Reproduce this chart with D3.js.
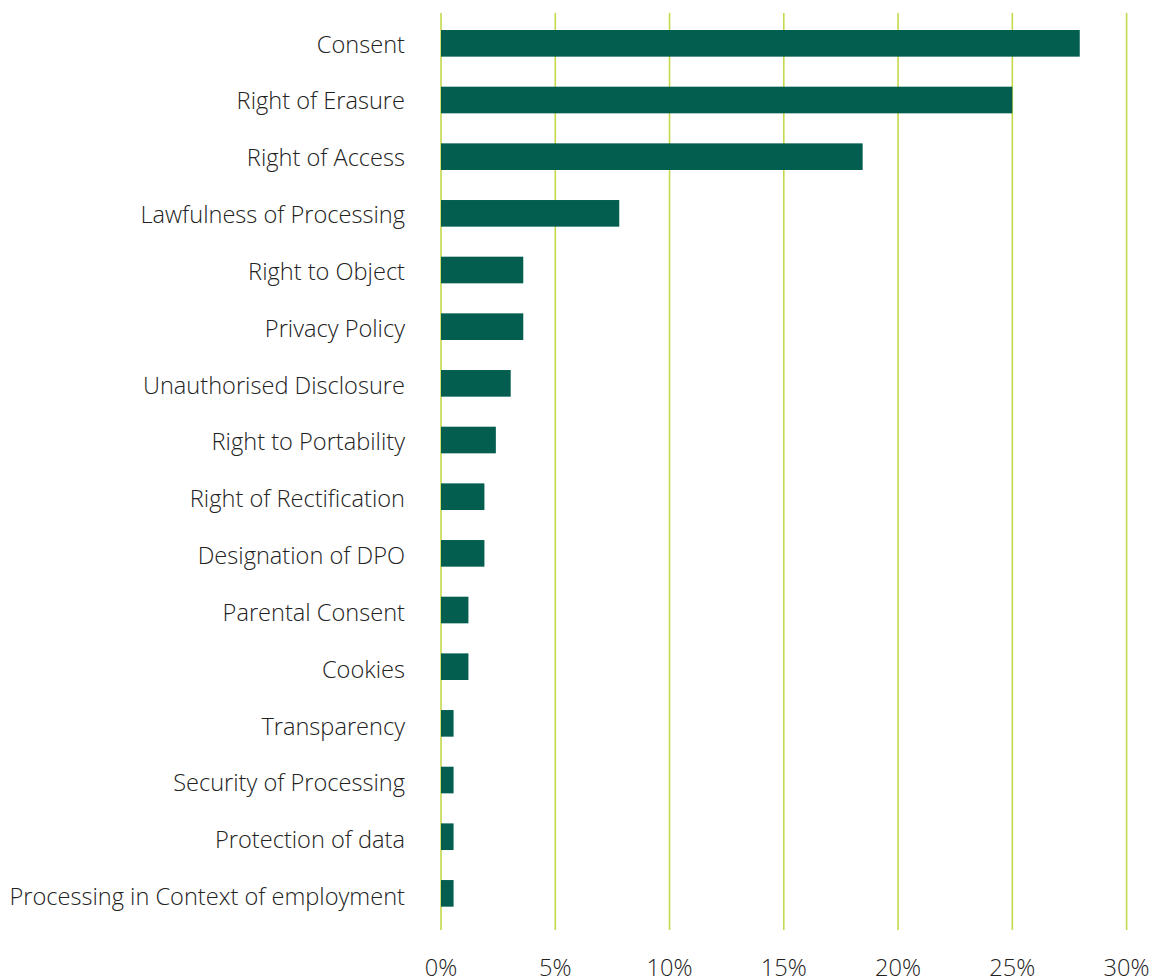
<!DOCTYPE html>
<html>
<head>
<meta charset="utf-8">
<script src="https://cdn.jsdelivr.net/npm/d3@7"></script>
<style>
  html, body { margin: 0; padding: 0; background: #fff; }
  svg { display: block; }
  text { font-family: "Open Sans", sans-serif; font-weight: 300; }
</style>
</head>
<body>
<div id="chart"></div>
<script>
const categories = [
  "Consent", "Right of Erasure", "Right of Access", "Lawfulness of Processing",
  "Right to Object", "Privacy Policy", "Unauthorised Disclosure", "Right to Portability",
  "Right of Rectification", "Designation of DPO", "Parental Consent", "Cookies",
  "Transparency", "Security of Processing", "Protection of data",
  "Processing in Context of employment"
];
const values = [27.95, 25.0, 18.45, 7.8, 3.6, 3.6, 3.05, 2.4, 1.9, 1.9, 1.2, 1.2, 0.55, 0.55, 0.55, 0.55];
const tickValues = [0, 5, 10, 15, 20, 25, 30];
const tickLabels = ["0%", "5%", "10%", "15%", "20%", "25%", "30%"];

const W = 1158, H = 978;
const svg = d3.select("#chart").append("svg").attr("width", W).attr("height", H);

const x = d3.scaleLinear().domain([0, 30]).range([441, 1126.6]);
const y = d3.scaleBand().domain(categories).range([15, 921.7]).paddingInner(0.53).paddingOuter(0.265);
const yLabel = d3.scalePoint().domain(categories).range([52.6, 905]);

// gridlines
svg.append("g").selectAll("line").data(tickValues).join("line")
  .attr("x1", d => x(d)).attr("x2", d => x(d))
  .attr("y1", 13).attr("y2", 930)
  .attr("stroke", "#c5d94b").attr("stroke-width", 1.6);

// bars
svg.append("g").selectAll("rect").data(values).join("rect")
  .attr("x", x(0))
  .attr("y", (d, i) => y(categories[i]))
  .attr("width", d => x(d) - x(0))
  .attr("height", y.bandwidth())
  .attr("fill", "#035e50");

// category labels
svg.append("g").selectAll("text").data(categories).join("text")
  .attr("x", 405)
  .attr("y", d => yLabel(d))
  .attr("text-anchor", "end")
  .attr("font-size", 23.6)
  .attr("fill", "#222")
  .text(d => d);

// x-axis tick labels
svg.append("g").selectAll("text").data(tickValues).join("text")
  .attr("x", d => x(d))
  .attr("y", 976)
  .attr("text-anchor", "middle")
  .attr("font-size", 23.6)
  .attr("fill", "#222")
  .text((d, i) => tickLabels[i]);
</script>
</body>
</html>
